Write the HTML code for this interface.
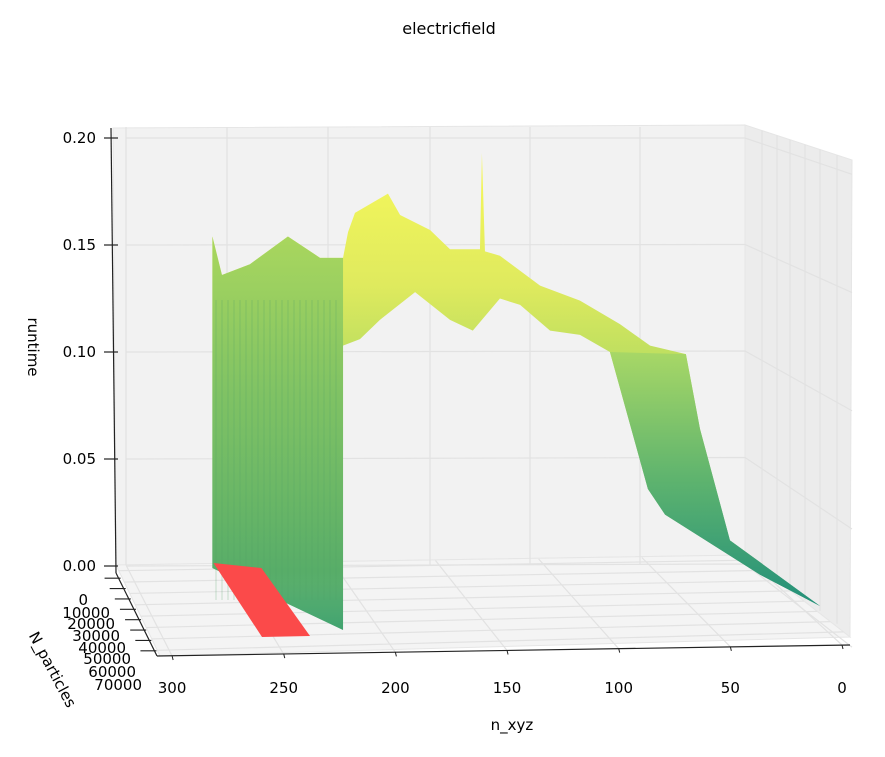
<!DOCTYPE html>
<html><head><meta charset="utf-8"><style>
body{margin:0;background:#fff;}
svg text{font-family:"DejaVu Sans","Liberation Sans",sans-serif;font-size:15px;fill:#000;}
</style></head><body>
<svg width="885" height="752" viewBox="0 0 885 752">
<defs>
<linearGradient id="gTop" x1="0" y1="150" x2="0" y2="600" gradientUnits="userSpaceOnUse">
<stop offset="0" stop-color="#f8f95a"/><stop offset="0.3" stop-color="#dfea5e"/><stop offset="0.5" stop-color="#b6dc60"/><stop offset="1" stop-color="#2f9a6c"/></linearGradient>
<linearGradient id="gWall" x1="0" y1="240" x2="0" y2="630" gradientUnits="userSpaceOnUse">
<stop offset="0" stop-color="#a8d65e"/><stop offset="0.4" stop-color="#7fc264"/><stop offset="0.85" stop-color="#5aae68" stop-opacity="0.9"/><stop offset="1" stop-color="#7fc27a" stop-opacity="0.2"/></linearGradient>
<linearGradient id="gDesc" x1="0" y1="350" x2="0" y2="605" gradientUnits="userSpaceOnUse">
<stop offset="0" stop-color="#a9d866"/><stop offset="0.5" stop-color="#5fb46e"/><stop offset="1" stop-color="#23907a"/></linearGradient>
</defs>
<text x="449" y="34" text-anchor="middle" style="font-size:16px">electricfield</text>
<g id="panes">
<polygon points="113,128 745,125 745,555 116,565" fill="#f2f2f2" stroke="#e6e6e6"/>
<polygon points="745,125 852,160 850,637 745,555" fill="#ececec" stroke="#e6e6e6"/>
<polygon points="116,565 745,555 850,637 160,656" fill="#f4f4f4" stroke="#e6e6e6"/>
</g>
<g id="grid" stroke="#e2e2e2" stroke-width="1.2" fill="none"></g>
<g id="surface"></g>
<g id="axes"></g>
<text x="28" y="347" transform="rotate(90 28 347)" text-anchor="middle">runtime</text>
<text x="512" y="730" text-anchor="middle">n_xyz</text>
<text x="48" y="672" transform="rotate(62 48 672)" text-anchor="middle">N_particles</text>
</svg>
<script>
const zTicks=[0.00,0.05,0.10,0.15,0.20];
const zTickLabels=["0.00","0.05","0.10","0.15","0.20"];
const xTicks=[300,250,200,150,100,50,0];
const yTicks=[0,10000,20000,30000,40000,50000,60000,70000];
// ridge (top profile) of surface
const ridgeN=[280,275.6,262.7,245.2,230.4,219.8,217.5,214.3,199.1,193.5,179.7,170.5,156.7,155.8,154.4,147.5,129,110.6,92.2,78.3,61.8,55.3,41.5,0];
const ridgeR=[0.154,0.136,0.141,0.154,0.144,0.144,0.156,0.165,0.174,0.164,0.157,0.148,0.148,0.193,0.147,0.145,0.131,0.124,0.113,0.103,0.099,0.064,0.012,0];
const ridgeD=[0,0,0,0,0,0,0,0,0,0,0,0,0,0,0,0,0,0,0,0,0,0,0,1];
// lower visible boundary (right to left)
const lowN=[0,27.6,71.4,79.3,96.8,110.6,124.4,138.2,147.5,160,170.5,186.6,202.8,212,219.8];
const lowR=[0,0,0.024,0.036,0.1,0.108,0.11,0.122,0.125,0.11,0.115,0.128,0.115,0.106,0.103];
const lowD=[1,0.22,0,0,0,0,0,0,0,0,0,0,0,0,0];
// wall front
const wallN=[280,219.8];
const wallD=[0.05,1.6];
// red floor region
const redN=[279.5,257.4];
const SVGNS="http://www.w3.org/2000/svg";
function xs(n){return 820-n*2.17;}
function ys(r,d){return 566-r*2140+(d||0)*40;}
function el(tag,attrs,parent){const e=document.createElementNS(SVGNS,tag);for(const k in attrs)e.setAttribute(k,attrs[k]);parent.appendChild(e);return e;}
const grid=document.getElementById('grid');
const surf=document.getElementById('surface');
const axes=document.getElementById('axes');
zTicks.forEach((v,i)=>{const y=566-v*2140;const yr=160+(y-125)*(635-160)/(555-125);
 const l=el('polyline',{points:`126,${y} 745,${y-2*(1-v*5)} 852,${yr}`},grid);
 });
[126,227,328,430,530,640].forEach(x=>{const l=el('line',{x1:x,y1:127,x2:x,y2:565},grid);
 });
[762,777,790,805,820,837].forEach(x=>{const t=(x-745)/107;const l=el('line',{x1:x,y1:125+35*t,x2:x,y2:555+80*t},grid);
 });
xTicks.forEach(v=>{const xf=842-(v)*2.233;const xb=745-(v/300)*(745-126);
 const l=el('line',{x1:xb,y1:556+(v/300)*9,x2:xf,y2:645+(v/300)*11},grid);
 });
yTicks.forEach((v,i)=>{const t=(i+0.5)/8;const l=el('line',{x1:116+44*t,y1:565+91*t,x2:745+105*t,y2:555+82*t},grid);
 });
// surface main
let pts=[];
ridgeN.forEach((n,i)=>pts.push(xs(n)+','+ys(ridgeR[i],ridgeD[i])));
lowN.forEach((n,i)=>pts.push(xs(n)+','+ys(lowR[i],lowD[i])));
pts.push(xs(wallN[1])+','+ys(0,wallD[1]));pts.push(xs(wallN[0])+','+ys(0,wallD[0]));
const main=el('polygon',{points:pts.join(' '),fill:'url(#gTop)'},surf);

// descent
let dp=[];
for(let i=0;i<ridgeN.length;i++){if(ridgeN[i]<=62)dp.push(xs(ridgeN[i])+','+ys(ridgeR[i],ridgeD[i]));}
for(let i=0;i<lowN.length;i++){if(lowN[i]<=97)dp.push(xs(lowN[i])+','+ys(lowR[i],lowD[i]));}
const desc=el('polygon',{points:dp.join(' '),fill:'url(#gDesc)'},surf);

// wall
let wp=[];
for(let i=0;i<ridgeN.length;i++){if(ridgeN[i]>=wallN[1])wp.push(xs(ridgeN[i])+','+ys(ridgeR[i],ridgeD[i]));}
wp.push(xs(wallN[1])+','+ys(0,wallD[1]));wp.push(xs(wallN[0])+','+ys(0,wallD[0]));
const wall=el('polygon',{points:wp.join(' '),fill:'url(#gWall)'},surf);

for(let x=216;x<342;x+=6){const s=el('line',{x1:x,y1:300,x2:x,y2:600,stroke:'#4e9f6a','stroke-opacity':0.2,'stroke-width':1.5},surf);
 }
const red=el('polygon',{points:`${xs(redN[0])},563 ${xs(redN[1])},568 310,636 262,637`,fill:'#fb4a4a'},surf);

// axes lines
el('line',{x1:111,y1:128,x2:116,y2:573,stroke:'#222','stroke-width':1.2},axes);
el('line',{x1:116,y1:573,x2:157,y2:656,stroke:'#222','stroke-width':1.2},axes);
el('line',{x1:157,y1:656,x2:850,y2:645,stroke:'#222','stroke-width':1.2},axes);
zTicks.forEach((v,i)=>{const y=566-v*2140;
 el('line',{x1:104,y1:y,x2:118,y2:y,stroke:'#222','stroke-width':1.2},axes);
 const t=el('text',{x:96,y:y+5,'text-anchor':'end'},axes);t.textContent=zTickLabels[i];
 });
xTicks.forEach(v=>{const x=842-v*2.233;const y=645+(v/300)*11;
 el('line',{x1:x,y1:y,x2:x+1,y2:y+4,stroke:'#222'},axes);
 const t=el('text',{x:x,y:693,'text-anchor':'middle'},axes);t.textContent=String(v);
 });
const yLabY=[605,618,629,641,653,664,677,690];
const yLabX=[88,110,115,120,126,131,136,142];
yTicks.forEach((v,i)=>{const t=(i+0.5)/8;const ax=116+41*t, ay=573+83*t;
 el('line',{x1:ax-14,y1:ay,x2:ax+2,y2:ay,stroke:'#222','stroke-width':1.2},axes);
 const tx=el('text',{x:yLabX[i],y:yLabY[i],'text-anchor':'end'},axes);tx.textContent=String(v);
 });
</script>
</body></html>
